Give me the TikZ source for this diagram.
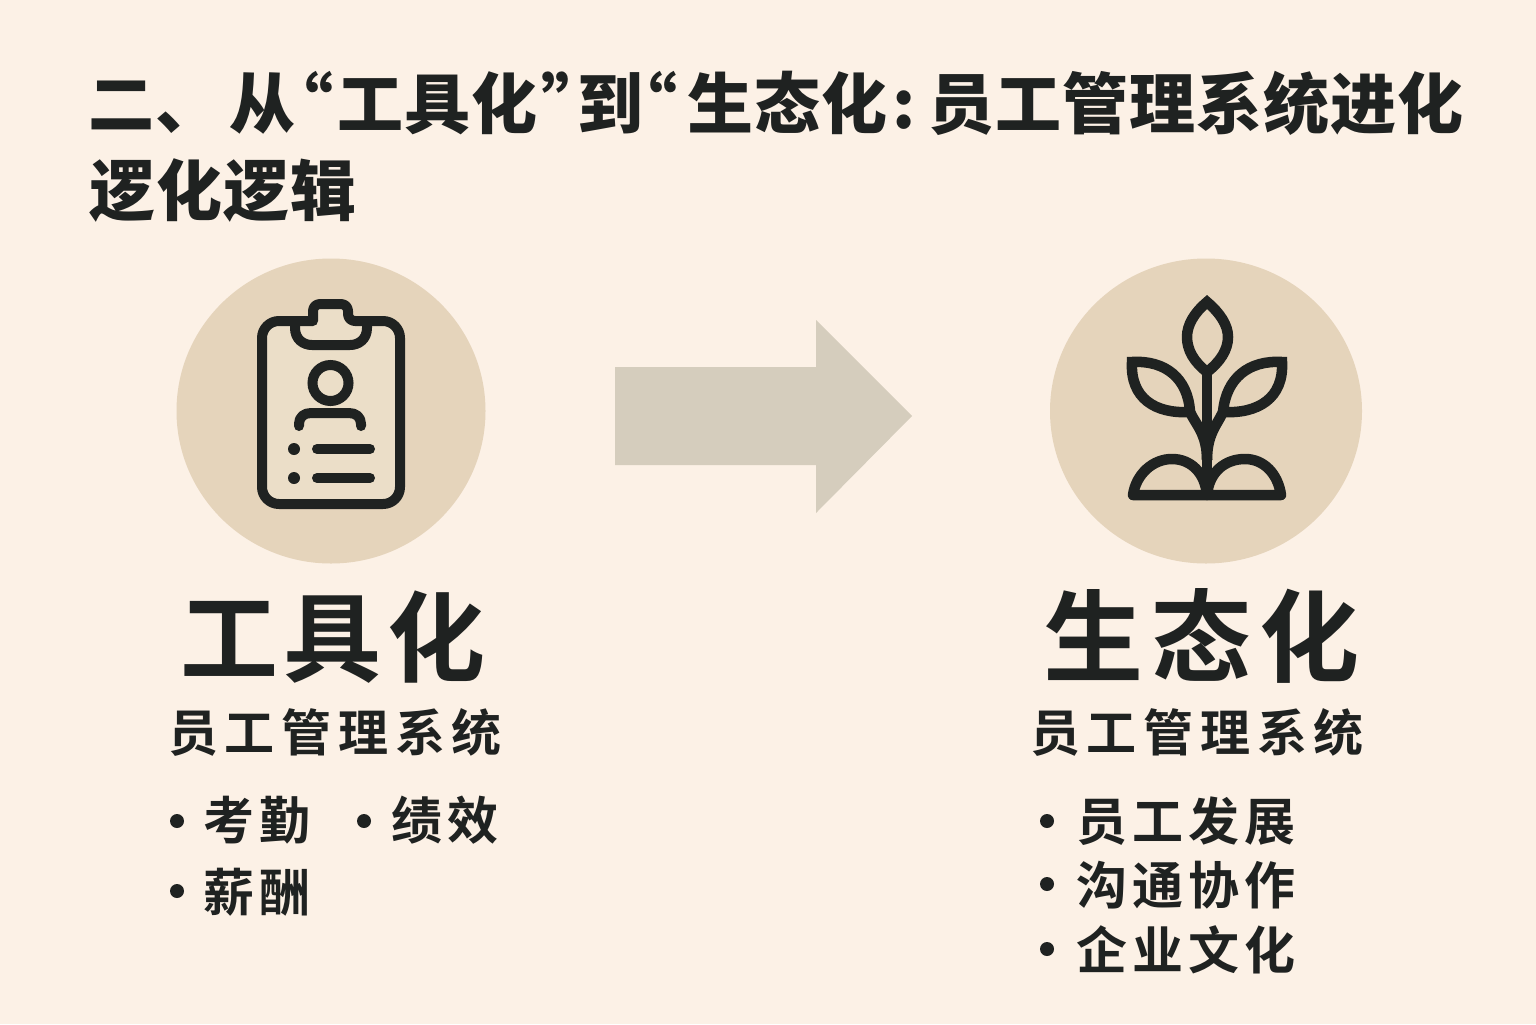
\documentclass[tikz,border=0pt]{standalone}
\usepackage{fontspec}
\usetikzlibrary{shapes.geometric}
\newfontfamily\cjkblack{Noto Sans CJK SC Black}
\newfontfamily\cjkbold{Noto Sans CJK SC Bold}
\definecolor{paper}{HTML}{FCF1E6}
\definecolor{disc}{HTML}{E5D4BB}
\definecolor{card}{HTML}{EBDEC8}
\definecolor{arrowgrey}{HTML}{D5CDBD}
\definecolor{ink}{HTML}{1F2221}
\tikzset{
  headline/.style={anchor=base west,inner sep=0pt,text=ink,font=\cjkblack\fontsize{66bp}{66bp}\selectfont\addfontfeature{LetterSpace=1.5}},
  bigname/.style={anchor=base west,inner sep=0pt,text=ink,font=\cjkbold\fontsize{98bp}{98bp}\selectfont\addfontfeature{LetterSpace=6}},
  subname/.style={anchor=base west,inner sep=0pt,text=ink,font=\cjkbold\fontsize{50bp}{50bp}\selectfont\addfontfeature{LetterSpace=13.5}},
  itemname/.style={anchor=base west,inner sep=0pt,text=ink,font=\cjkbold\fontsize{51bp}{51bp}\selectfont\addfontfeature{LetterSpace=10}},
  discbox/.style={ellipse,fill=disc,inner sep=0pt,minimum height=305bp},
  dotmark/.style={circle,fill=ink,inner sep=0pt,minimum size=14bp},
  iconline/.style={draw=ink,line width=10bp,line cap=round,line join=round},
  leafline/.style={draw=ink,line width=10.5bp,line join=miter,miter limit=6},
}
\begin{document}
\begin{tikzpicture}[x=1bp,y=-1bp,>=latex]
\useasboundingbox (0,0) rectangle (1536,1024);
\fill [paper] (0,0) rectangle (1536,1024);
%% title
\node (title_a) at (88,128) [headline] {二、};
\node (title_b) at (229,128) [headline] {从};
\node (title_c) at (267,128) [headline] {“};
\node (title_d) at (337,128) [headline] {工具化};
\node (title_e) at (541,128) [headline] {”};
\node (title_f) at (577,128) [headline] {到};
\node (title_g) at (611,128) [headline] {“};
\node (title_h) at (687,128) [headline] {生态化};
\node (title_i) at (892,128) [headline] {:};
\node (title_j) at (928,128) [headline] {员工管理系统进化};
\node (title_k) at (89,215) [headline] {逻化逻辑};
%% discs and arrow
\node (tool_disc) at (331,411) [discbox,minimum width=309bp] {};
\node (eco_disc) at (1206,411) [discbox,minimum width=312bp] {};
\fill [arrowgrey] (615,367) -- (816,367) -- (816,320) -- (912,416) -- (816,513) -- (816,465) -- (615,465) -- cycle;
%% clipboard
\fill [card,rounded corners=17bp] (262,321) rectangle (400,504);
\fill [card] (313,304) rectangle (348,325);
\draw [iconline] (295,321) -- (295,328) .. controls (295,339) and (303,345) .. (312,345) -- (350,345) .. controls (359,345) and (367,339) .. (367,328) -- (367,321);
\draw [iconline] (313,321) [rounded corners=17bp] -- (262,321) -- (262,504) -- (400,504) -- (400,321) [rounded corners=7bp] -- (348,321) -- (348,304) -- (313,304) -- (313,321);
\node (badge_head) at (330.5,383) [circle,draw=ink,line width=10bp,inner sep=0pt,minimum size=36bp] {};
\draw [iconline] (299,426) -- (299,424) .. controls (299,417) and (304,413) .. (311,413) -- (349,413) .. controls (356,413) and (361,417) .. (361,424) -- (361,426);
\node (row_dot_a) at (294,449) [dotmark,minimum size=12bp] {};
\node (row_dot_b) at (294,478) [dotmark,minimum size=12bp] {};
\coordinate (row_a_l) at (317,449);
\coordinate (row_a_r) at (370,449);
\coordinate (row_b_l) at (317,478);
\coordinate (row_b_r) at (370,478);
\draw [iconline] (row_a_l) -- (row_a_r);
\draw [iconline] (row_b_l) -- (row_b_r);
%% plant
\draw [leafline] (1207,302) .. controls (1194,313) and (1187,325) .. (1187,337) .. controls (1187,350) and (1194,362) .. (1207,372) .. controls (1220,362) and (1228,350) .. (1228,337) .. controls (1228,325) and (1220,313) .. (1207,302) -- cycle;
\draw [leafline] (1132,362) .. controls (1165,360) and (1188,378) .. (1190,412) .. controls (1155,414) and (1130,398) .. (1132,362) -- cycle;
\draw [leafline] (1282,362) .. controls (1249,360) and (1226,378) .. (1223,412) .. controls (1258,414) and (1284,398) .. (1282,362) -- cycle;
\draw [leafline] (1207,372) -- (1207,495);
\draw [leafline] (1190,412) .. controls (1196,425) and (1207,434) .. (1207,460);
\draw [leafline] (1223,412) .. controls (1217,425) and (1207,434) .. (1207,460);
\draw [leafline,line join=round] (1133,495) .. controls (1136,474) and (1153,459) .. (1172,459) .. controls (1190,459) and (1205,472) .. (1207,495) -- cycle;
\draw [leafline,line join=round] (1207,495) .. controls (1209,472) and (1225,459) .. (1245,459) .. controls (1264,459) and (1278,474) .. (1281,495) -- cycle;
%% labels
\node (tool_name) at (180,674) [bigname] {工具化};
\node (eco_name) at (1043,674) [bigname,font=\cjkbold\fontsize{100bp}{100bp}\selectfont\addfontfeature{LetterSpace=8}] {生态化};
\node (tool_sub) at (168,751) [subname] {员工管理系统};
\node (eco_sub) at (1030,751) [subname] {员工管理系统};
\node (tool_dot_a) at (177,821) [dotmark] {};
\node (tool_item_a) at (203,839) [itemname] {考勤};
\node (tool_dot_b) at (364,821) [dotmark] {};
\node (tool_item_b) at (391,839) [itemname] {绩效};
\node (tool_dot_c) at (177,891) [dotmark] {};
\node (tool_item_c) at (203,911) [itemname] {薪酬};
\node (eco_dot_a) at (1047,821) [dotmark] {};
\node (eco_item_a) at (1076,840) [itemname] {员工发展};
\node (eco_dot_b) at (1047,884) [dotmark] {};
\node (eco_item_b) at (1076,904) [itemname] {沟通协作};
\node (eco_dot_c) at (1047,949) [dotmark] {};
\node (eco_item_c) at (1076,969) [itemname] {企业文化};
\end{tikzpicture}
\end{document}
